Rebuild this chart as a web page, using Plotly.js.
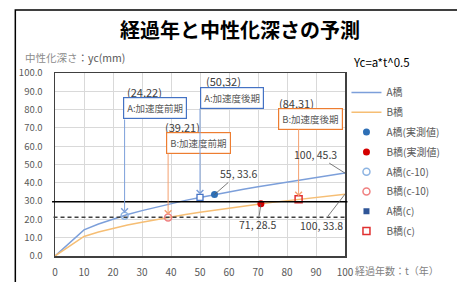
<!DOCTYPE html>
<html>
<head>
<meta charset="utf-8">
<script src="https://cdn.plot.ly/plotly-3.0.1.min.js"></script>
<style>html,body{margin:0;padding:0;background:#fff;}#chart{width:457px;height:282px;}</style>
</head>
<body>
<div id="chart"></div>
<script>
// ---- data ----
const years = [0, 10, 15, 20, 25, 30, 35, 40, 45, 50, 55, 60, 65, 70, 75, 80, 85, 90, 95, 100];
const bridgeA = [0, 14.3, 17.5, 20.3, 22.7, 24.8, 26.8, 28.7, 30.4, 32.0, 33.6, 35.1, 36.5, 37.9, 39.2, 40.5, 41.8, 43.0, 44.2, 45.3];
const bridgeB = [0, 10.7, 13.1, 15.1, 16.9, 18.5, 20.0, 21.4, 22.7, 23.9, 25.1, 26.2, 27.3, 28.3, 29.3, 30.2, 31.2, 32.1, 32.9, 33.8];
const measA = {t: [55], y: [33.6]};
const measB = {t: [71], y: [28.5]};
const cm10A = {t: [24], y: [22]};
const cm10B = {t: [39], y: [21]};
const cA = {t: [50], y: [32]};
const cB = {t: [84], y: [31]};
const xTicks = [0, 10, 20, 30, 40, 50, 60, 70, 80, 90, 100];
const yTicks = [0, 10, 20, 30, 40, 50, 60, 70, 80, 90, 100];
const names = ['A橋', 'B橋', 'A橋(実測値)', 'B橋(実測値)', 'A橋(c-10)', 'B橋(c-10)', 'A橋(c)', 'B橋(c)'];

const JP = 'Noto Sans CJK JP, sans-serif';
const blue = '#4472C4', orange = '#ED7D31';

const traces = [
  {x: years, y: bridgeA, mode: 'lines', name: names[0], line: {color: '#7C9FDA', width: 1.5}, legendgroup: 'g0'},
  {x: years, y: bridgeB, mode: 'lines', name: names[1], line: {color: '#F6BE74', width: 1.5}, legendgroup: 'g1'},
  {x: measA.t, y: measA.y, mode: 'markers', name: names[2], marker: {color: '#2E6FB5', size: 7, symbol: 'circle'}, legendgroup: 'g2'},
  {x: measB.t, y: measB.y, mode: 'markers', name: names[3], marker: {color: '#D40000', size: 7, symbol: 'circle'}, legendgroup: 'g3'},
  {x: cm10A.t, y: cm10A.y, mode: 'markers', name: names[4], marker: {color: '#8DB4E2', size: 7, symbol: 'circle-open', line: {width: 1.5}}, legendgroup: 'g4'},
  {x: cm10B.t, y: cm10B.y, mode: 'markers', name: names[5], marker: {color: '#F08080', size: 7, symbol: 'circle-open', line: {width: 1.5}}, legendgroup: 'g5'},
  {x: cA.t, y: cA.y, mode: 'markers', name: names[6], showlegend: false, marker: {color: '#FFFFFF', size: 6, symbol: 'square', line: {color: blue, width: 1.3}}, legendgroup: 'g6'},
  {x: [null], y: [null], mode: 'markers', name: names[6], marker: {color: '#2F5597', size: 6, symbol: 'square'}, legendgroup: 'g6'},
  {x: cB.t, y: cB.y, mode: 'markers', name: names[7], marker: {color: '#E03030', size: 7, symbol: 'square-open', line: {width: 1.5}}, legendgroup: 'g7'}
];

const L = 54.5, T = 73, W = 296, H = 183;
const px = v => (v - L) / W;          // pixel x -> paper
const py = v => (T + H - v) / H;      // pixel y -> paper

const lbl = (x, y, text) => ({xref: 'paper', yref: 'paper', x: px(x), y: py(y), xanchor: 'center', yanchor: 'middle', showarrow: false,
  text: text, font: {family: JP, size: 11, color: '#404040'}});
const box = (x, y, text, col) => ({xref: 'paper', yref: 'paper', x: px(x), y: py(y), xanchor: 'left', yanchor: 'middle', showarrow: false,
  text: text, font: {family: JP, size: 9.5, color: '#595959'}, bordercolor: col, borderwidth: 1.2, borderpad: 3, bgcolor: '#fff'});
const vArrow = (pt, tailY, col) => ({x: pt.t[0], y: pt.y[0], ax: pt.t[0], ay: tailY, axref: 'x', ayref: 'y', text: '', showarrow: true,
  arrowhead: 4, arrowsize: 1.3, arrowwidth: 1, arrowcolor: col, standoff: 3});
const dlab = (x, y, ax, ay, text) => ({x: x, y: y, ax: ax, ay: ay, text: text, showarrow: true, arrowhead: 0, arrowwidth: 0.8,
  arrowcolor: '#595959', font: {family: JP, size: 10.5, color: '#404040'}});

const annotations = [
  {xref: 'paper', yref: 'paper', x: px(22), y: py(58), xanchor: 'left', yanchor: 'middle', showarrow: false,
   text: '<span style="color:#8C8C8C">中性化深さ</span>：yc(mm)', font: {family: JP, size: 10.5, color: '#595959'}},
  {xref: 'paper', yref: 'paper', x: px(357), y: py(62), xanchor: 'left', yanchor: 'middle', showarrow: false,
   text: 'Yc=a*t^0.5', font: {family: JP, size: 11.5, color: '#000'}},
  {xref: 'paper', yref: 'paper', x: px(359), y: py(270), xanchor: 'left', yanchor: 'middle', showarrow: false,
   text: '経過年数：t（年）', font: {family: JP, size: 10, color: '#7F7F7F'}},
  lbl(146, 92, '(24,22)'),
  lbl(226, 81, '(50,32)'),
  lbl(185, 127, '(39,21)'),
  lbl(301, 103, '(84,31)'),
  box(124, 108, 'A:加速度前期', blue),
  box(202, 97.5, 'A:加速度後期', blue),
  box(168, 142.5, 'B:加速度前期', orange),
  box(282, 119, 'B:加速度後期', orange),
  vArrow(cm10A, 75.4, '#7C9FDA'),
  vArrow(cA, 81.4, '#7C9FDA'),
  vArrow(cm10B, 56.8, '#F4A070'),
  vArrow(cB, 70, '#F4A070'),
  dlab(measA.t[0], measA.y[0], 24, -21, '55, 33.6'),
  dlab(measB.t[0], measB.y[0], -3, 21, '71, 28.5'),
  dlab(years[years.length - 1], bridgeA[bridgeA.length - 1], -30, -19, '100, 45.3'),
  dlab(years[years.length - 1], bridgeB[bridgeB.length - 1], -24, 31, '100, 33.8')
];

const shapes = [
  {type: 'line', xref: 'paper', yref: 'paper', x0: px(51.5), x1: px(353), y0: 0.297, y1: 0.297, line: {color: '#000', width: 1.5}},
  {type: 'line', xref: 'paper', yref: 'paper', x0: px(53), x1: px(350), y0: 0.212, y1: 0.212, line: {color: '#404040', width: 1.5, dash: '4px,3px'}},
  {type: 'rect', xref: 'paper', yref: 'paper', x0: px(14), x1: px(480), y0: py(300), y1: py(10), line: {color: '#000', width: 1.5}}
];

const layout = {
  width: 457, height: 282,
  margin: {l: L, r: 457 - L - W, t: T, b: 282 - T - H},
  paper_bgcolor: '#fff', plot_bgcolor: '#fff',
  font: {family: JP, color: '#595959', size: 10},
  title: {text: '<b>経過年と中性化深さの予測</b>', x: 240 / 457, xref: 'container', xanchor: 'center', y: 1 - 31 / 282, yref: 'container', yanchor: 'middle',
          font: {family: JP, size: 20, color: '#000'}},
  xaxis: {range: [0, 100], tickvals: xTicks, ticktext: xTicks.map(String), showgrid: true, gridcolor: '#D9D9D9', gridwidth: 1,
          zeroline: false, showline: true, linecolor: '#404040', linewidth: 1.5, mirror: true, ticks: '', ticklabelstandoff: 6,
          tickfont: {family: JP, size: 10, color: '#595959'}, fixedrange: true},
  yaxis: {range: [0, 100], tickvals: yTicks, ticktext: yTicks.map(v => v.toFixed(1)), showgrid: true, gridcolor: '#D9D9D9', gridwidth: 1,
          zeroline: false, showline: true, linecolor: '#404040', linewidth: 1.5, mirror: true, ticks: '', ticklabelstandoff: 9,
          tickfont: {family: JP, size: 9.5, color: '#595959'}, fixedrange: true},
  showlegend: true,
  legend: {x: px(352), xanchor: 'left', y: py(78), yanchor: 'top', bgcolor: 'rgba(0,0,0,0)', borderwidth: 0,
           font: {family: JP, size: 10, color: '#595959'}, traceorder: 'grouped', tracegroupgap: 0.8, itemwidth: 30},
  annotations: annotations,
  shapes: shapes
};

Plotly.newPlot('chart', traces, layout, {displayModeBar: false, staticPlot: true});
</script>
</body>
</html>
